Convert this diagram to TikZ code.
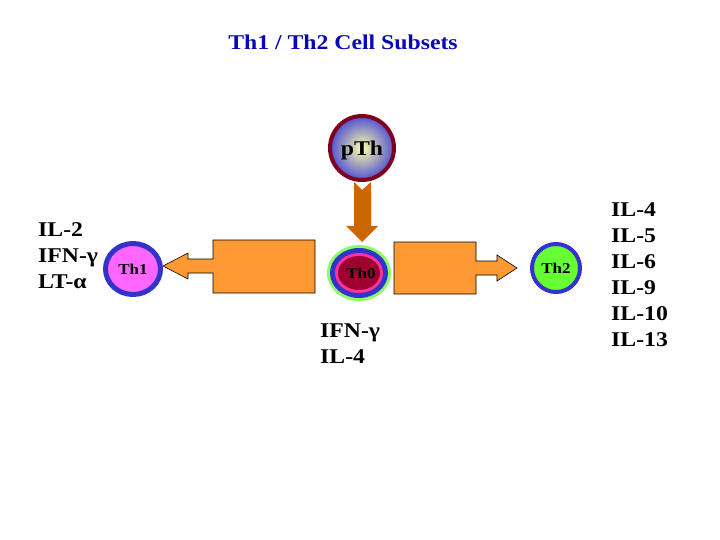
\documentclass[tikz,border=0pt]{standalone}
\usepackage{fontspec}
\setmainfont{Liberation Serif}[FakeStretch=1.13]
\usetikzlibrary{positioning}
\definecolor{ttitle}{HTML}{0808B8}
\definecolor{tbox}{HTML}{FF9933}
\definecolor{tdown}{HTML}{CC6600}
\definecolor{tring}{HTML}{3333CC}
\definecolor{tmaroon}{HTML}{800020}
\definecolor{tpink}{HTML}{FF66FF}
\definecolor{tgreen}{HTML}{66FF33}
\definecolor{tlime}{HTML}{88FF66}
\definecolor{trose}{HTML}{FF3399}
\definecolor{tcrimson}{HTML}{A00030}
\tikzset{
  cyto/.style={font=\fontsize{21}{26}\selectfont\bfseries, align=left, inner sep=0pt, anchor=west},
  cell/.style={font=\fontsize{15}{18}\selectfont\bfseries, inner sep=0pt},
  callout/.style={draw=black, fill=tbox, line width=0.6pt, line join=miter},
}

\begin{document}
\begin{tikzpicture}[x=1pt,y=-1pt]
\useasboundingbox (0,0) rectangle (720,540);
\node[ttitle, font=\fontsize{21}{24}\selectfont\bfseries] (title) at (343,42) {Th1 / Th2 Cell Subsets};
\draw[tmaroon, line width=4pt, inner color=yellow!35!white, outer color=tring!85] (362,148) circle (32);
\node[font=\fontsize{21}{24}\selectfont\bfseries, inner sep=0pt] (pth) at (362,150) {pTh};
\fill[tdown] (354,182) -- (362,190) -- (371,182) -- (371,226) -- (378,226) -- (362,242) -- (346,226) -- (354,226) -- cycle;
\fill[tlime] (359,273) ellipse (32 and 28);
\fill[tring] (359,273) ellipse (29 and 25);
\fill[trose] (359,273) ellipse (24 and 20);
\fill[tcrimson] (359,273) ellipse (21 and 17);
\node[cell] (th0) at (361,273) {Th0};
\draw[callout] (315,240) -- (213,240) -- (213,259) -- (188,259) -- (188,253) -- (163,266) -- (188,279) -- (188,273) -- (213,273) -- (213,293) -- (315,293) -- cycle;
\draw[callout] (394,242) -- (476,242) -- (476,261) -- (497,261) -- (497,255) -- (517,268) -- (497,281) -- (497,275) -- (476,275) -- (476,294) -- (394,294) -- cycle;
\draw[tring, line width=5pt, fill=tpink] (133,269) ellipse (27.5 and 25.5);
\node[cell] (th1) at (133,269) {Th1};
\draw[tring, line width=4pt, fill=tgreen] (556,268) circle (24);
\node[cell] (th2) at (556,268) {Th2};
\node[cyto] (th1cyt) at (38,256) {IL-2\\IFN-γ\\LT-α};
\node[cyto] (th0cyt) at (320,344) {IFN-γ\\IL-4};
\node[cyto] (th2cyt) at (611,275) {IL-4\\IL-5\\IL-6\\IL-9\\IL-10\\IL-13};
\end{tikzpicture}
\end{document}
